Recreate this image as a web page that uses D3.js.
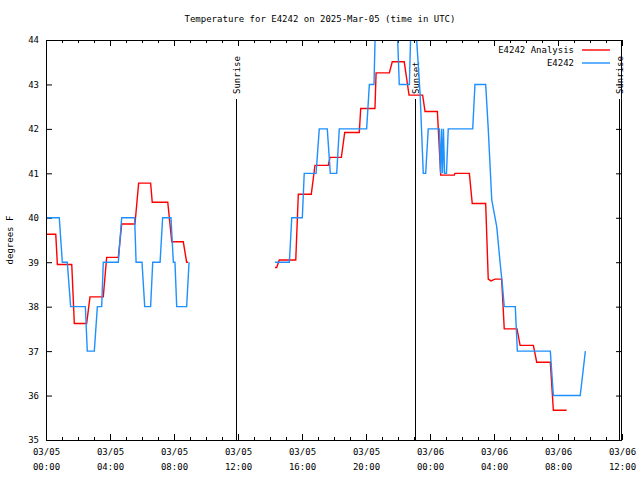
<!DOCTYPE html>
<html>
<head>
<meta charset="utf-8">
<script src="https://cdn.jsdelivr.net/npm/d3@7"></script>
<style>
  body { margin: 0; background: #fff; }
  text { font-family: "DejaVu Sans Mono", "Liberation Mono", monospace; font-size: 9px; fill: #000; }
</style>
</head>
<body>
<svg id="chart" width="640" height="480"></svg>
<script>
// ---- data (hours after 2025-03-05 00:00 UTC; null = gap) ----
const title = "Temperature for E4242 on 2025-Mar-05 (time in UTC)";
const yLabel = "degrees F";
const seriesNames = ["E4242 Analysis", "E4242"];
const seriesColors = ["#ff0000", "#1e90ff"];

const analysisHours = [0.06,0.61,0.71,1.61,1.77,2.54,2.75,3.58,3.79,4.52,4.73,5.56,5.79,6.54,6.64,7.61,7.86,8.58,8.79,8.88,
  null,
  14.31,14.42,14.58,15.61,15.77,16.58,16.81,17.64,17.75,18.46,18.67,19.58,19.67,20.56,20.63,21.46,21.64,22.39,22.69,23.54,23.69,
  24.46,24.67,25.52,25.56,26.46,26.64,27.48,27.64,27.81,28.06,28.48,28.64,29.44,29.63,30.46,30.67,31.52,31.71,32.54];
const analysisTemps = [39.63,39.63,38.95,38.95,37.62,37.62,38.22,38.22,39.11,39.11,39.86,39.86,40.78,40.78,40.35,40.35,39.46,39.46,39.0,39.0,
  null,
  38.88,38.88,39.05,39.05,40.53,40.53,41.18,41.18,41.36,41.36,41.92,41.92,42.46,42.46,43.26,43.26,43.51,43.51,42.76,42.76,42.39,
  42.39,40.96,40.96,41.0,41.0,40.32,40.32,38.62,38.58,38.62,38.62,37.5,37.5,37.13,37.13,36.75,36.75,35.67,35.67];

const obsHours = [0.06,0.83,1.02,1.33,1.54,2.46,2.58,3.02,3.21,3.48,3.58,4.52,4.73,5.54,5.63,6.00,6.17,6.54,6.67,7.13,7.29,7.81,7.96,8.06,8.17,8.79,8.94,
  null,
  14.31,15.21,15.36,16.02,16.14,16.88,17.08,17.58,17.77,18.17,18.33,20.04,20.21,20.50,20.63,21.88,22.08,22.71,22.86,22.97,23.13,23.38,23.58,23.73,23.89,
  24.58,24.66,24.72,24.78,24.84,24.91,25.03,25.14,26.67,26.81,27.48,27.64,27.86,28.17,28.38,28.52,28.64,29.33,29.46,31.52,31.71,33.39,33.71];
const obsTemps = [40,40,39,39,38,38,37,37,38,38,39,39,40,40,39,39,38,38,39,39,40,40,39,39,38,38,39,
  null,
  39,39,40,40,41,41,42,42,41,41,42,42,43,43,45,45,43,43,45,45,44.2,42.8,41,41,42,
  42,41,42,41,42,41,41,42,42,43,43,42,40.4,39.8,39,38.5,38,38,37,37,36,36,37];

const sunEvents = [{label: "Sunrise", hour: 11.86}, {label: "Sunset", hour: 23.06}, {label: "Sunrise", hour: 35.81}];
const yTicks = [35, 36, 37, 38, 39, 40, 41, 42, 43, 44];

// ---- layout ----
const svg = d3.select("#chart");
const L = 46, R = 622, T = 40, B = 440;
const base = Date.UTC(2025, 2, 5);
const toDate = h => new Date(base + h * 3600e3);
const x = d3.scaleUtc().domain([toDate(0), toDate(36)]).range([L, R]);
const y = d3.scaleLinear().domain([35, 44]).range([B, T]);

svg.append("text").attr("x", 320).attr("y", 22).attr("text-anchor", "middle").text(title);

svg.append("defs").append("clipPath").attr("id", "clip")
  .append("rect").attr("x", L).attr("y", T).attr("width", R - L).attr("height", B - T);

// axes
const fmtDate = d3.utcFormat("%m/%d"), fmtTime = d3.utcFormat("%H:%M");
const major = d3.utcHour.every(4), minor = d3.utcHour.every(1);

const bottom = svg.append("g").attr("transform", `translate(0,${B})`)
  .call(d3.axisBottom(x).ticks(major).tickSize(-6).tickPadding(15).tickFormat(() => ""));
bottom.selectAll(".tick text").each(function(d) {
  const t = d3.select(this);
  t.append("tspan").attr("x", 0).attr("dy", "0").text(fmtDate(d));
  t.append("tspan").attr("x", 0).attr("dy", "15").text(fmtTime(d));
});
svg.append("g").attr("transform", `translate(0,${B})`)
  .call(d3.axisBottom(x).ticks(minor).tickSize(-3).tickFormat(""));
svg.append("g").attr("transform", `translate(0,${T})`)
  .call(d3.axisTop(x).ticks(major).tickSize(-6).tickFormat(""));
svg.append("g").attr("transform", `translate(0,${T})`)
  .call(d3.axisTop(x).ticks(minor).tickSize(-3).tickFormat(""));
svg.append("g").attr("transform", `translate(${L},0)`)
  .call(d3.axisLeft(y).tickValues(yTicks).tickSize(-6).tickPadding(7).tickFormat(d3.format("d")));
svg.append("g").attr("transform", `translate(${R},0)`)
  .call(d3.axisRight(y).tickValues(yTicks).tickSize(-6).tickFormat(""));
svg.selectAll(".domain").remove();
svg.selectAll(".tick line").attr("stroke", "#000");
svg.selectAll(".tick text").attr("font-family", null).attr("font-size", null).attr("fill", "#000");

svg.append("text").attr("transform", `translate(13,${(T + B) / 2}) rotate(-90)`)
  .attr("text-anchor", "middle").text(yLabel);

// sunrise / sunset
sunEvents.forEach(e => {
  const xs = Math.round(x(toDate(e.hour))) + 0.5;
  svg.append("line").attr("x1", xs).attr("x2", xs).attr("y1", 99).attr("y2", B)
    .attr("stroke", "#000").attr("stroke-width", 1);
  svg.append("text").attr("transform", `translate(${xs + 3.5},94) rotate(-90)`)
    .attr("text-anchor", "start").text(e.label);
});

// series
function draw(hours, temps, color) {
  const pts = hours.map((h, i) => h === null ? null : [toDate(h), temps[i]]);
  const line = d3.line().defined(d => d !== null).x(d => x(d[0])).y(d => y(d[1]));
  svg.append("path").attr("clip-path", "url(#clip)").datum(pts)
    .attr("fill", "none").attr("stroke", color).attr("stroke-width", 1.4).attr("d", line);
}
draw(analysisHours, analysisTemps, seriesColors[0]);
draw(obsHours, obsTemps, seriesColors[1]);

// frame
svg.append("rect").attr("x", L + 0.5).attr("y", T + 0.5).attr("width", R - L - 1).attr("height", B - T)
  .attr("fill", "none").attr("stroke", "#000").attr("stroke-width", 1);

// legend
seriesNames.forEach((n, i) => {
  const ly = 50 + i * 13;
  svg.append("text").attr("x", 574).attr("y", ly + 3).attr("text-anchor", "end").text(n);
  svg.append("line").attr("x1", 582).attr("x2", 610).attr("y1", ly).attr("y2", ly)
    .attr("stroke", seriesColors[i]).attr("stroke-width", 1.4);
});
</script>
</body>
</html>
